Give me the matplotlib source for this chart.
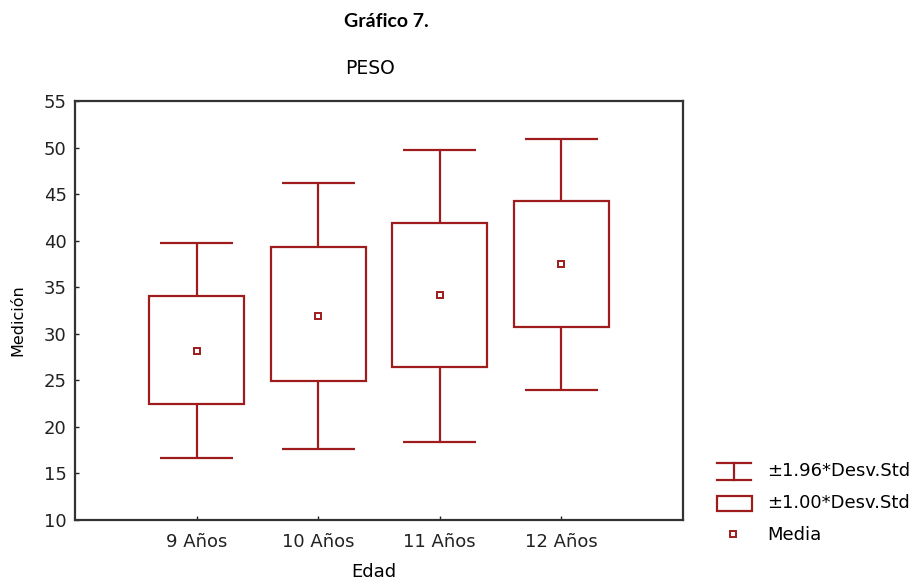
import numpy as np
import matplotlib.pyplot as plt
from matplotlib.patches import Rectangle
from matplotlib.lines import Line2D

# data
grupos = ["9 Años", "10 Años", "11 Años", "12 Años"]
media = np.array([28.2, 31.9, 34.2, 37.5])
caja_inf = np.array([22.5, 24.9, 26.4, 30.7])    # media - 1.00*SD
caja_sup = np.array([34.1, 39.3, 41.9, 44.3])    # media + 1.00*SD
bigote_inf = np.array([16.7, 17.6, 18.4, 24.0])  # media - 1.96*SD
bigote_sup = np.array([39.7, 46.2, 49.7, 50.9])  # media + 1.96*SD

rojo = "#9e1c1c"
plt.rcParams['font.family'] = ['DejaVu Sans']

fig = plt.figure(figsize=(9.16, 5.83), dpi=100)
ax = fig.add_axes([0.0819, 0.108, 0.6637, 0.7188])

x = np.arange(len(grupos))
ancho_caja = 0.78
ancho_cap = 0.6

# whiskers
ax.vlines(x, bigote_inf, caja_inf, color=rojo, lw=1.6)
ax.vlines(x, caja_sup, bigote_sup, color=rojo, lw=1.6)
ax.hlines(bigote_inf, x - ancho_cap/2, x + ancho_cap/2, color=rojo, lw=1.6)
ax.hlines(bigote_sup, x - ancho_cap/2, x + ancho_cap/2, color=rojo, lw=1.6)

# boxes
for i in range(len(grupos)):
    ax.add_patch(Rectangle((x[i] - ancho_caja/2, caja_inf[i]), ancho_caja,
                           caja_sup[i] - caja_inf[i], facecolor="white",
                           edgecolor=rojo, lw=1.6, zorder=2))

# means
ax.plot(x, media, "s", ms=5, mfc="white", mec=rojo, mew=1.4, ls="none", zorder=3)

ax.set_xlim(-1, 4)
ax.set_ylim(10, 55)
ax.set_yticks(np.arange(10, 56, 5))
ax.set_xticks(x)
ax.set_xticklabels(grupos)
ax.tick_params(direction="in", length=3, width=1, labelsize=13, colors="#222222")
ax.tick_params(axis="y", pad=6)
ax.tick_params(axis="x", pad=9)
for s in ax.spines.values():
    s.set_linewidth(1.6)
    s.set_color("#333333")

fig.text(0.0196, 0.451, "Medición", rotation=90, ha="center", va="center", fontsize=11.5)
fig.text(0.408, 0.003, "Edad", ha="center", va="bottom", fontsize=13)
fig.text(0.422, 0.963, "Gráfico 7.", ha="center", va="center", fontsize=14,
         fontweight="bold", family=["Lato", "DejaVu Sans"])
fig.text(0.404, 0.883, "PESO", ha="center", va="center", fontsize=13.5)

# legend drawn by hand outside the plot
lw_leg = 1.6
def fx(px):
    return px / 916
def fy(py):
    return 1 - py / 583

fig.add_artist(Line2D([fx(717), fx(751)], [fy(463), fy(463)], color=rojo, lw=lw_leg))
fig.add_artist(Line2D([fx(717), fx(751)], [fy(480), fy(480)], color=rojo, lw=lw_leg))
fig.add_artist(Line2D([fx(734), fx(734)], [fy(463), fy(480)], color=rojo, lw=lw_leg))
fig.add_artist(Rectangle((fx(717), fy(511)), fx(752) - fx(717), fy(496) - fy(511),
                         facecolor="white", edgecolor=rojo, lw=lw_leg,
                         transform=fig.transFigure))
fig.add_artist(Line2D([fx(733)], [fy(534)], marker="s", ms=5, mfc="white",
                      mec=rojo, mew=1.4, ls="none"))
fig.text(fx(767), fy(471), "±1.96*Desv.Std", ha="left", va="center", fontsize=13)
fig.text(fx(767), fy(503), "±1.00*Desv.Std", ha="left", va="center", fontsize=13)
fig.text(fx(767), fy(535), "Media", ha="left", va="center", fontsize=13)

fig.savefig("out.png", dpi=100)
